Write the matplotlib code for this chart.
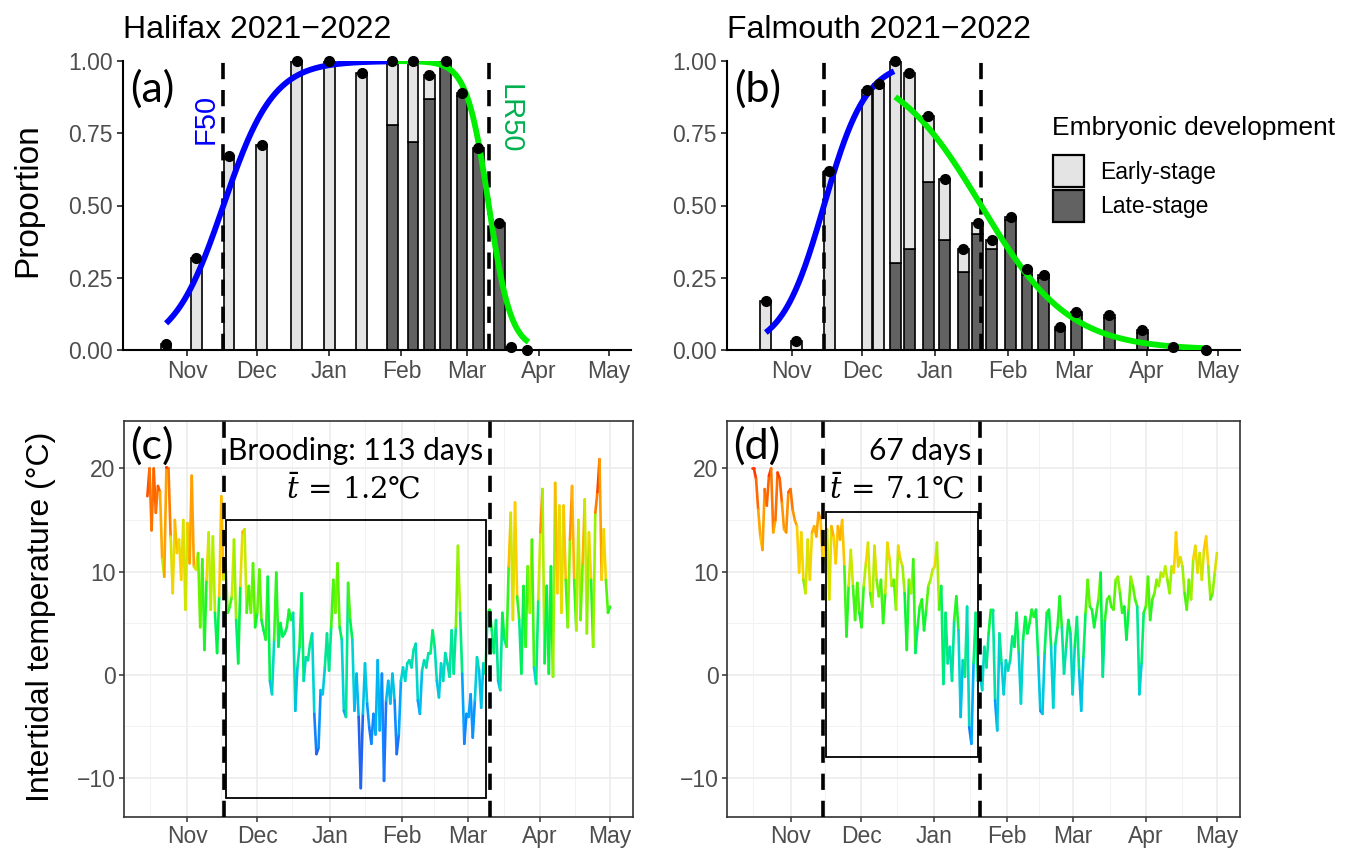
import numpy as np
import pandas as pd
import matplotlib
matplotlib.use("Agg")
import matplotlib.pyplot as plt
import matplotlib.dates as mdates
from matplotlib.collections import LineCollection
from matplotlib.colors import LinearSegmentedColormap, Normalize
from matplotlib.patches import Rectangle

plt.rcParams['font.family'] = ['Liberation Sans', 'DejaVu Sans']
plt.rcParams['mathtext.fontset'] = 'dejavuserif'

# ---------------- data ----------------
# Halifax sampling (proportion of ovigerous females)
hal_dates = ["2021-10-23", "2021-11-05", "2021-11-19", "2021-12-03", "2021-12-18",
             "2022-01-01", "2022-01-15", "2022-01-28", "2022-02-06", "2022-02-13",
             "2022-02-20", "2022-02-27", "2022-03-06", "2022-03-15", "2022-03-20",
             "2022-03-27"]
hal_total = [0.02, 0.32, 0.67, 0.71, 1.00, 1.00, 0.96, 1.00, 1.00, 0.95,
             1.00, 0.89, 0.70, 0.44, 0.01, 0.00]
hal_late = [0.00, 0.00, 0.00, 0.00, 0.00, 0.00, 0.00, 0.78, 0.72, 0.87,
            0.99, 0.88, 0.70, 0.44, 0.01, 0.00]

# Falmouth sampling
fal_dates = ["2021-10-21", "2021-11-03", "2021-11-17", "2021-12-03", "2021-12-08",
             "2021-12-15", "2021-12-21", "2021-12-29", "2022-01-05", "2022-01-13",
             "2022-01-19", "2022-01-25", "2022-02-02", "2022-02-09", "2022-02-16",
             "2022-02-23", "2022-03-02", "2022-03-16", "2022-03-30", "2022-04-12",
             "2022-04-26"]
fal_total = [0.17, 0.03, 0.62, 0.90, 0.92, 1.00, 0.96, 0.81, 0.59, 0.35,
             0.44, 0.38, 0.46, 0.28, 0.26, 0.08, 0.13, 0.12, 0.07, 0.01, 0.00]
fal_late = [0.00, 0.00, 0.00, 0.00, 0.00, 0.30, 0.35, 0.58, 0.38, 0.27,
            0.40, 0.35, 0.45, 0.26, 0.25, 0.07, 0.12, 0.11, 0.06, 0.01, 0.00]

# fitted logistic curves (50% date, slope per day, start, end)
hal_F50, hal_F_k, hal_F_span = "2021-11-16 14:00", 0.093, ("2021-10-23", "2022-01-28")
hal_LR50, hal_LR_k, hal_LR_span = "2022-03-10 12:00", 0.21, ("2022-01-28", "2022-03-27 12:00")
fal_F50, fal_F_k, fal_F_span = "2021-11-14 17:00", 0.111, ("2021-10-21", "2021-12-14 12:00")
fal_LR50, fal_LR_k, fal_LR_span = "2022-01-20 12:00", 0.0535, ("2021-12-15", "2022-04-26")

# brooding boxes
hal_box = ("2021-11-17 17:00", "2022-03-09", -12.0, 15.0)
fal_box = ("2021-11-16", "2022-01-19 14:00", -8.0, 15.8)
hal_label, hal_mean = "Brooding: 113 days", r"$\bar{t}\,=\,1.2$℃"
fal_label, fal_mean = "67 days", r"$\bar{t}\,=\,7.1$℃"

# intertidal temperature (regular sampling from start to end)
hal_temp_start, hal_temp_end = "2021-10-15", "2022-05-01"
hal_temps = [17.3, 20.0, 14.0, 20.0, 15.7, 18.3, 17.7, 11.2, 9.5, 20.1, 20.0, 13.4, 7.9, 15.0,
             11.8, 13.1, 9.2, 15.0, 6.3, 14.7, 10.8, 19.3, 10.5, 10.2, 11.8, 4.6, 11.2, 2.4,
             9.2, 13.8, 6.3, 13.4, 6.0, 2.1, 7.6, 17.3, 9.2, 10.8, 6.0, 6.6, 7.6, 13.1, 5.3,
             1.1, 8.6, 13.8, 14.1, 6.0, 8.6, 6.0, 10.8, 4.6, 6.0, 10.2, 5.3, 4.3, 3.4, 9.5,
             -0.6, -1.9, 3.4, 9.9, 2.7, 5.0, 3.7, 4.0, 4.6, 6.3, 5.3, 6.0, -3.5, 0.7, 2.7,
             7.9, -0.6, 1.7, 1.4, 3.0, 4.0, -3.8, -7.7, -7.1, -1.5, -1.9, 0.7, 4.0, 0.4,
             4.6, 9.2, 6.0, 10.8, 4.6, 3.4, -3.5, -4.1, 8.9, 5.3, 3.4, -3.5, 0.1, -4.1,
             -11.0, -3.8, 1.1, -2.8, -5.1, -6.7, -3.8, -5.8, 1.4, -5.4, 0.1, -10.3, -2.5,
             -0.6, -2.8, 0.1, -2.5, -7.7, -5.8, -0.6, 0.7, -0.6, 1.1, 1.4, 0.7, 2.4, 3.0,
             -2.5, -3.8, 0.4, 1.4, 0.7, 2.1, 2.1, 4.3, 2.7, -0.6, -2.2, 1.1, -0.6, 2.1,
             1.1, -0.2, 4.3, 0.1, 4.6, 12.5, 6.0, 0.1, -6.7, -3.8, -4.1, -1.9, -6.1, -2.5,
             1.7, 0.4, -3.2, 1.1, 0.1, 6.0, 6.3, 4.3, 2.1, 5.3, -0.6, -1.5, 6.0, 3.4, 2.7,
             10.5, 15.7, 5.3, 16.7, 7.6, 5.3, 0.1, 8.6, 2.7, 10.5, 6.0, 13.1, 0.7, -0.9,
             7.3, 13.8, 18.0, 1.1, 8.6, 0.1, 10.5, -0.2, 18.6, 7.9, 16.4, 6.0, 16.4, 9.2,
             4.6, 13.1, 18.3, 9.2, 4.3, 15.0, 5.3, 10.8, 17.0, 4.0, 13.8, 9.2, 2.7, 15.7,
             17.7, 20.9, 9.2, 14.1, 9.2, 6.0, 6.6]
fal_temp_start, fal_temp_end = "2021-10-15 12:00", "2022-05-01"
fal_temps = [20.0, 20.0, 19.0, 16.0, 13.4, 12.1, 18.0, 16.4, 19.3, 20.0, 13.8, 15.0, 19.6,
             19.0, 16.7, 14.1, 13.8, 17.7, 18.0, 16.0, 15.0, 14.4, 9.9, 13.8, 9.2, 7.9,
             13.1, 9.2, 13.8, 14.4, 13.4, 15.7, 15.0, 10.8, 12.1, 14.1, 7.3, 14.4, 13.4,
             10.8, 14.4, 13.1, 15.0, 10.5, 3.7, 8.6, 12.1, 8.6, 5.3, 8.9, 6.0, 4.6, 8.6,
             10.8, 12.8, 7.9, 6.6, 12.5, 9.2, 7.6, 9.2, 5.0, 7.9, 12.8, 11.2, 8.6, 9.2, 6.3,
             12.5, 11.2, 10.5, 7.9, 2.4, 9.2, 7.9, 11.2, 2.1, 4.6, 6.6, 7.3, 4.3, 6.3, 8.6,
             9.2, 10.2, 10.5, 12.8, 6.3, 8.6, -0.9, 6.0, 1.1, 2.7, -0.6, 5.3, 7.6, 4.3,
             -4.1, 1.4, -0.2, 6.6, -5.1, -6.7, 1.1, 6.0, -0.6, 0.1, -1.5, 2.7, 0.7, 4.0,
             6.3, 6.3, -2.5, -5.4, 4.0, 1.1, -1.9, 1.4, 0.4, 1.4, 3.7, 2.7, 6.0, 2.1, -2.8,
             3.4, 5.6, 4.0, 5.0, 6.3, 5.6, 6.3, 1.7, -3.5, -3.8, 2.1, 6.0, 6.3, 2.7, -3.2,
             3.0, 4.6, 7.6, 4.6, 0.1, 2.7, 5.3, 4.0, -1.9, 2.7, 5.6, 0.4, -3.5, 1.7, 6.0,
             9.2, 6.6, 6.3, 4.6, 6.0, 7.3, 9.9, -0.2, 5.3, 7.3, 7.6, 6.6, 6.3, 9.2, 9.5,
             7.9, 6.0, 6.6, 3.4, 6.3, 9.5, 8.6, 7.3, 6.6, -1.9, 1.1, 6.0, 6.6, 9.5, 5.3,
             7.3, 7.9, 9.2, 8.6, 9.9, 9.5, 10.5, 9.2, 7.9, 10.5, 9.9, 13.8, 10.5, 11.4,
             10.5, 7.9, 6.3, 9.2, 7.3, 11.2, 12.5, 9.9, 11.8, 9.2, 12.1, 13.4, 10.5, 7.3,
             7.9, 9.9, 11.8]

month_ticks = ["2021-11-01", "2021-12-01", "2022-01-01", "2022-02-01",
               "2022-03-01", "2022-04-01", "2022-05-01"]
month_labels = ["Nov", "Dec", "Jan", "Feb", "Mar", "Apr", "May"]
month_minor = ["2021-10-16", "2021-11-15 12:00", "2021-12-16", "2022-01-16",
               "2022-02-14 12:00", "2022-03-16 12:00", "2022-04-16"]

legend_title = "Embryonic development"
legend_labels = ["Early-stage", "Late-stage"]

# ---------------- style ----------------
EARLY = "#e4e4e4"
LATE = "#626262"
BLUE = "#0000ff"
GREEN = "#00ee00"
TICKCOL = "#4d4d4d"
temp_cmap = LinearSegmentedColormap.from_list("temp", [
    (0.0, "#3b2a98"), (4/32, "#1f6bff"), (8/32, "#00a8ff"), (11/32, "#00d4d4"),
    (14/32, "#00ec80"), (16/32, "#00f53a"), (19/32, "#60f500"), (21/32, "#c0ee00"),
    (23/32, "#ffd000"), (26/32, "#ffa000"), (29/32, "#ff6000"), (1.0, "#ff1a00")])
temp_norm = Normalize(-11, 21)

W, H = 1355, 849
fig = plt.figure(figsize=(W / 100, H / 100), dpi=100)

def fbox(l, t, r, b):
    return [l / W, 1 - b / H, (r - l) / W, (b - t) / H]

ax_a = fig.add_axes(fbox(123, 61, 631, 350))
ax_b = fig.add_axes(fbox(727, 61, 1240, 350))
ax_c = fig.add_axes(fbox(124, 421, 633, 817))
ax_d = fig.add_axes(fbox(727, 421, 1240, 817))

d = lambda s: mdates.date2num(pd.Timestamp(s))
tick_pos = [d(s) for s in month_ticks]
day0 = d("2021-11-01")


def logistic_curve(ax, t50, k, span, color, decreasing=False):
    t = np.linspace(d(span[0]), d(span[1]), 300)
    z = -k * (t - d(t50))
    if decreasing:
        z = -z
    p = 1.0 / (1.0 + np.exp(z))
    ax.plot(t, p, color=color, lw=4.2, solid_capstyle='butt', zorder=4)


def top_panel(ax, dates, total, late, F50, Fk, Fspan, LR50, LRk, LRspan, label):
    x = np.array([d(s) for s in dates])
    total = np.array(total)
    late = np.array(late)
    early = total - late
    bw = 4.6
    ax.bar(x, late, width=bw, color=LATE, edgecolor='black', lw=1.2, zorder=2)
    ax.bar(x, early, width=bw, bottom=late, color=EARLY, edgecolor='black', lw=1.2, zorder=2)
    for v in (F50, LR50):
        ax.axvline(d(v), color='black', lw=2.6, ls=(0, (4.5, 3)), zorder=3)
    logistic_curve(ax, F50, Fk, Fspan, BLUE)
    logistic_curve(ax, LR50, LRk, LRspan, GREEN, decreasing=True)
    ax.plot(x, total, 'o', color='black', ms=7, zorder=5, clip_on=False)
    ax.set_xlim(day0 - 27.5, day0 + 190.5)
    ax.set_ylim(0, 1.0)
    ax.set_yticks([0, 0.25, 0.5, 0.75, 1.0])
    ax.set_yticklabels(["0.00", "0.25", "0.50", "0.75", "1.00"])
    ax.set_xticks(tick_pos)
    ax.set_xticklabels(month_labels)
    for s in ('top', 'right'):
        ax.spines[s].set_visible(False)
    for s in ('left', 'bottom'):
        ax.spines[s].set_linewidth(1.5)
        ax.spines[s].set_color('black')
    ax.tick_params(axis='both', length=4, width=1.3, color='#333333',
                   labelcolor=TICKCOL, labelsize=16.5, pad=3.5)
    ax.text(0.014, 0.903, label, transform=ax.transAxes, fontsize=31,
            family=['Lato', 'DejaVu Sans'], va='center', ha='left')


top_panel(ax_a, hal_dates, hal_total, hal_late, hal_F50, hal_F_k, hal_F_span,
          hal_LR50, hal_LR_k, hal_LR_span, "(a)")
top_panel(ax_b, fal_dates, fal_total, fal_late, fal_F50, fal_F_k, fal_F_span,
          fal_LR50, fal_LR_k, fal_LR_span, "(b)")

ax_a.text(d("2021-11-09"), 0.80, "F50", color=BLUE, rotation=90, fontsize=21,
          ha='center', va='center')
ax_a.text(d("2022-03-19 06:00"), 0.80, "LR50", color="#00b050", rotation=-90, fontsize=21,
          ha='center', va='center')


def bottom_panel(ax, start, end, temps, F50, LR50, box, lab1, lab2, label, lab1_x, lab2_x):
    t = pd.date_range(pd.Timestamp(start), pd.Timestamp(end), periods=len(temps))
    x = mdates.date2num(t)
    y = np.array(temps)
    pts = np.column_stack([x, y]).reshape(-1, 1, 2)
    segs = np.concatenate([pts[:-1], pts[1:]], axis=1)
    lc = LineCollection(segs, cmap=temp_cmap, norm=temp_norm, lw=1.9, zorder=3,
                        capstyle='round', joinstyle='round')
    lc.set_array((y[:-1] + y[1:]) / 2)
    ax.add_collection(lc)
    x0, x1, y0, y1 = d(box[0]), d(box[1]), box[2], box[3]
    ax.add_patch(Rectangle((x0, y0), x1 - x0, y1 - y0, fill=False, ec='black',
                           lw=1.3, zorder=4))
    for v in (F50, LR50):
        ax.axvline(d(v), color='black', lw=2.6, ls=(0, (4.5, 3)), zorder=5)
    ax.set_xlim(day0 - 27, day0 + 190.8)
    ax.set_ylim(-13.8, 24.6)
    ax.set_yticks([-10, 0, 10, 20])
    ax.set_yticks([-5, 5, 15], minor=True)
    ax.set_xticks(tick_pos)
    ax.set_xticklabels(month_labels)
    ax.set_xticks([d(s) for s in month_minor], minor=True)
    ax.grid(which='major', color='#ebebeb', lw=1.1, zorder=0)
    ax.grid(which='minor', color='#f2f2f2', lw=0.7, zorder=0)
    ax.set_axisbelow(True)
    for s in ax.spines.values():
        s.set_color('#333333')
        s.set_linewidth(1.2)
    ax.tick_params(axis='both', which='major', length=3.5, width=1.1, color='#333333',
                   labelcolor=TICKCOL, labelsize=16.5, pad=2.5)
    ax.tick_params(axis='both', which='minor', length=0)
    ax.text(0.012, 0.937, label, transform=ax.transAxes, fontsize=31,
            family=['Lato', 'DejaVu Sans'], va='center', ha='left')
    ax.text(d(lab1_x), 21.7, lab1, fontsize=21.5, family=['Lato', 'DejaVu Sans'],
            ha='center', va='center', zorder=6)
    ax.text(d(lab2_x), 18.0, lab2, fontsize=21,
            family=['DejaVu Serif'], ha='center', va='center', zorder=6)


bottom_panel(ax_c, hal_temp_start, hal_temp_end, hal_temps, hal_F50, hal_LR50, hal_box,
             hal_label, hal_mean, "(c)", "2022-01-12", "2022-01-11")
bottom_panel(ax_d, fal_temp_start, fal_temp_end, fal_temps, fal_F50, fal_LR50, fal_box,
             fal_label, fal_mean, "(d)", "2021-12-26", "2021-12-16")

fig.text(123 / W, 1 - 30 / H, "Halifax 2021\u22122022", fontsize=23, ha='left', va='center')
fig.text(727 / W, 1 - 30 / H, "Falmouth 2021\u22122022", fontsize=23, ha='left', va='center')
fig.text(28 / W, 1 - 200 / H, "Proportion", fontsize=24, rotation=90, ha='center', va='center')
fig.text(41 / W, 1 - 617 / H, "Intertidal temperature (°C)", fontsize=23, rotation=90,
         ha='center', va='center')

# legend drawn in figure pixels
fig.text(1052 / W, 1 - 128 / H, legend_title, fontsize=19, ha='left', va='center')
for i, (lab, col) in enumerate(zip(legend_labels, [EARLY, LATE])):
    top = 155 + 35 * i
    fig.patches.append(Rectangle((1053 / W, 1 - (top + 32) / H), 31 / W, 32 / H,
                                 transform=fig.transFigure, facecolor=col,
                                 edgecolor='black', lw=1.6, figure=fig))
    fig.text(1100 / W, 1 - (top + 17) / H, lab, fontsize=16.5, ha='left', va='center')

fig.savefig("out.png", dpi=100)
